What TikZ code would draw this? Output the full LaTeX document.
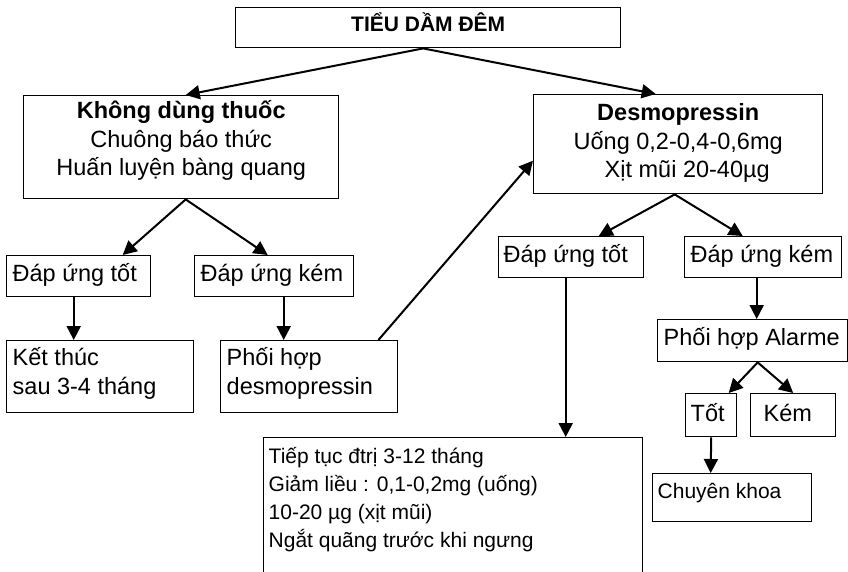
\documentclass[tikz,border=0pt]{standalone}
\usepackage{fontspec}
\setmainfont{Liberation Sans}
\usetikzlibrary{arrows.meta}
\newcommand{\cbx}[4]{\parbox[c][#2pt][t]{#1pt}{\centering\rule{0pt}{#3pt}#4}}
\newcommand{\lbx}[5]{\parbox[c][#2pt][t]{#1pt}{\raggedright\leftskip=#4pt\rule{0pt}{#3pt}#5}}
\begin{document}
\begin{tikzpicture}[x=1pt,y=-1pt,
  box/.style={draw, line width=1.4pt, inner sep=0pt, anchor=north west},
  arr/.style={line width=2pt, -{Triangle[length=14pt,width=14pt]}},
  main/.style={font=\fontsize{23.5}{28.5}\selectfont},
  small/.style={font=\fontsize{21}{28}\selectfont},
  ttl/.style={font=\fontsize{21}{24}\selectfont\bfseries}]
\useasboundingbox (0,0) rectangle (848,571);
% nodes
\node[box,ttl] (top) at (235,7) {\cbx{385}{40}{24}{TIỂU DẦM ĐÊM}};
\node[box,main] (L1) at (23,95) {\cbx{315}{103}{23}{\textbf{Không dùng thuốc}\\Chuông báo thức\\Huấn luyện bàng quang}};
\node[box,main] (R1) at (533,94) {\cbx{289}{99}{26}{\textbf{Desmopressin}\\Uống 0,2-0,4-0,6mg\\\hspace*{18pt}Xịt mũi 20-40µg}};
\node[box,main] (L2a) at (6,255) {\lbx{144}{41}{26}{6}{Đáp ứng tốt}};
\node[box,main] (L2b) at (194,255) {\lbx{159}{41}{26}{6}{Đáp ứng kém}};
\node[box,main] (L3a) at (6,340) {\lbx{187}{72}{25}{6}{Kết thúc\\sau 3-4 tháng}};
\node[box,main] (L3b) at (220,340) {\lbx{177}{72}{25}{6}{Phối hợp\\desmopressin}};
\node[box,main] (R2a) at (498,236) {\lbx{145}{41}{26}{5}{Đáp ứng tốt}};
\node[box,main] (R2b) at (684,236) {\lbx{157}{41}{26}{6}{Đáp ứng kém}};
\node[box,main] (R3) at (657,319) {\lbx{190}{42}{26}{6}{Phối hợp Alarme}};
\node[box,main] (G) at (685,393) {\lbx{51}{43}{28}{5}{Tốt}};
\node[box,main] (K) at (750,393) {\lbx{85}{43}{28}{13}{Kém}};
\node[box,small] (C) at (652,473) {\lbx{159}{48}{25}{5}{Chuyên khoa}};
\node[box,small] (T) at (263,437) {\lbx{379}{140}{26}{5}{Tiếp tục đtrị 3-12 tháng\\Giảm liều : 0,1-0,2mg (uống)\\10-20 µg (xịt mũi)\\Ngắt quãng trước khi ngưng}};
% connectors
\draw[arr] ([xshift=-5pt]top.south) -- ([xshift=4.5pt]L1.north);
\draw[arr] ([xshift=-5pt]top.south) -- ([xshift=-22.5pt]R1.north);
\draw[arr] ([xshift=4.5pt]L1.south) -- ([xshift=44pt]L2a.north);
\draw[arr] ([xshift=4.5pt]L1.south) -- ([xshift=-6.5pt]L2b.north);
\draw[arr] ([xshift=-5pt]L2a.south) -- ([xshift=-26.5pt]L3a.north);
\draw[arr] ([xshift=9.5pt]L2b.south) -- ([xshift=-25.5pt]L3b.north);
\draw[arr] ([xshift=-20pt]L3b.north east) -- ([yshift=-16.5pt]R1.west);
\draw[arr] ([xshift=-3.5pt]R1.south) -- ([xshift=27.5pt]R2a.north);
\draw[arr] ([xshift=-3.5pt]R1.south) -- ([xshift=-20.5pt]R2b.north);
\draw[arr] ([xshift=-5.5pt]R2a.south) -- ([xshift=112.5pt]T.north);
\draw[arr] ([xshift=-6.5pt]R2b.south) -- ([xshift=4pt]R3.north);
\draw[arr] ([xshift=5pt]R3.south) -- ([xshift=17.5pt]G.north);
\draw[arr] ([xshift=5pt]R3.south) -- (K.north);
\draw[arr] (G.south) -- ([xshift=-21.5pt]C.north);
\end{tikzpicture}
\end{document}
